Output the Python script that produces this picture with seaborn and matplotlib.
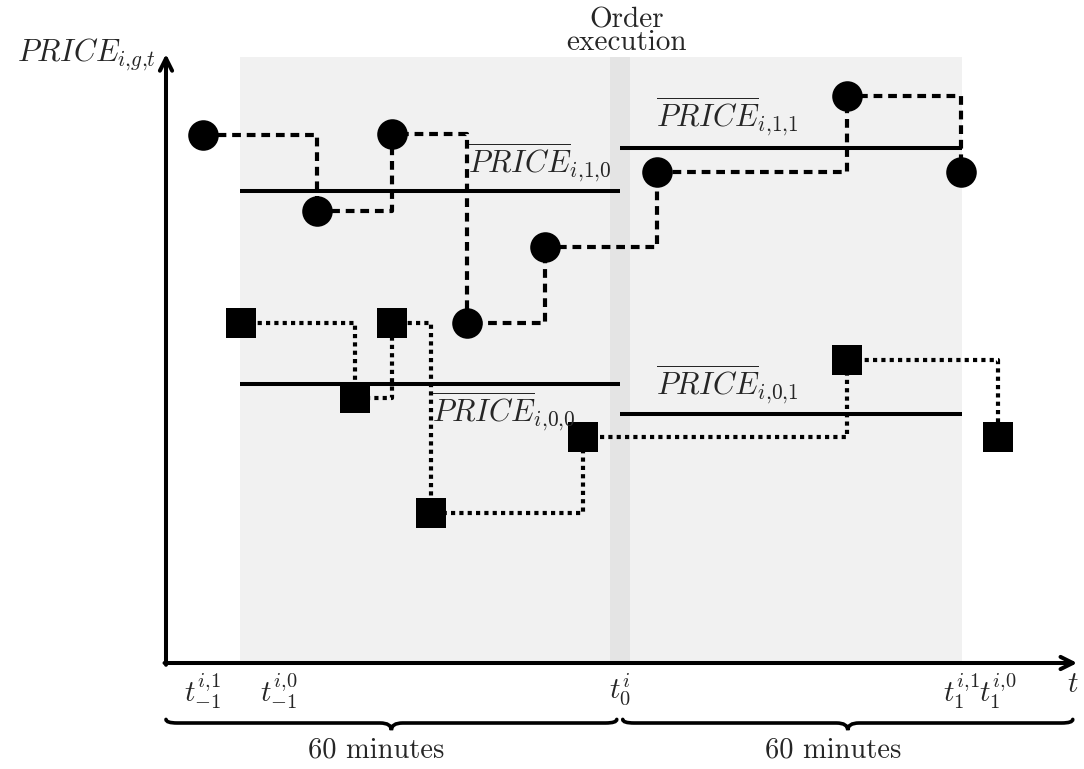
import numpy as np
import pandas as pd
import seaborn as sns
import matplotlib.pyplot as plt
from matplotlib.path import Path
from matplotlib.patches import PathPatch

sns.set_theme(style='white')
plt.rcParams['font.family'] = ['cmr10', 'DejaVu Serif']
plt.rcParams['mathtext.fontset'] = 'cm'
plt.rcParams['axes.formatter.use_mathtext'] = True

# time in minutes relative to order execution, price in arbitrary units
time_1 = [-55.6, -40.4, -30.4, -20.4, -10.0, 4.9, 30.3, 45.5]
price_1 = [88.0, 75.3, 88.2, 56.7, 69.3, 81.8, 94.5, 81.8]
time_0 = [-50.5, -35.3, -30.4, -25.2, -4.9, 30.3, 50.4]
price_0 = [56.7, 44.2, 56.7, 25.0, 37.7, 50.5, 37.7]

# per-period means (before / after execution)
period_start = [-50.7, 0.0]
period_end = [0.0, 45.6]
mean_1 = [78.7, 85.8]
mean_0 = [46.5, 41.5]
mean_labels_1 = [r'$\overline{PRICE}_{i{,}1{,}0}$', r'$\overline{PRICE}_{i{,}1{,}1}$']
mean_labels_0 = [r'$\overline{PRICE}_{i{,}0{,}0}$', r'$\overline{PRICE}_{i{,}0{,}1}$']

tick_pos = [-55.6, -45.5, 0.0, 45.6, 50.4, 60.4]
tick_labels = [r'$t_{-1}^{i{,}1}$', r'$t_{-1}^{i{,}0}$', r'$t_0^i$',
               r'$t_1^{i{,}1}$', r'$t_1^{i{,}0}$', r'$t$']


def brace(ax, x0, x1, y, h_end=0.6, h_tip=1.2, w=1.5):
    xm = (x0 + x1) / 2
    verts = [(x0, y + h_end), (x0, y), (x0 + w, y), (xm - w, y),
             (xm, y), (xm, y - h_tip), (xm, y), (xm + w, y),
             (x1 - w, y), (x1, y), (x1, y + h_end)]
    codes = [Path.MOVETO, Path.CURVE3, Path.CURVE3, Path.LINETO,
             Path.CURVE3, Path.CURVE3, Path.CURVE3, Path.CURVE3,
             Path.LINETO, Path.CURVE3, Path.CURVE3]
    ax.add_patch(PathPatch(Path(verts, codes), fill=False, lw=2.6,
                           color='black', clip_on=False, capstyle='round'))
    return xm


fig = plt.figure(figsize=(10.84, 7.69), dpi=100)
ax = fig.add_axes([166 / 1084, 106 / 769, 909 / 1084, 606 / 769])
ax.set_xlim(-60.5, 60.7)
ax.set_ylim(0, 101)

# shaded windows
ax.axvspan(period_start[0], period_end[1], color='#f1f1f1', lw=0, zorder=0)
ax.axvspan(-1.3, 1.3, color='#e4e4e4', lw=0, zorder=0)

# means
ax.hlines(mean_1, period_start, period_end, color='black', lw=2.9, zorder=2)
ax.hlines(mean_0, period_start, period_end, color='black', lw=2.9, zorder=2)

# price paths
sns.lineplot(x=time_1, y=price_1, ax=ax, color='black', lw=3,
             linestyle=(0, (2.1, 1.4)), drawstyle='steps-post',
             marker='o', markersize=22, markeredgewidth=0, zorder=3)
sns.lineplot(x=time_0, y=price_0, ax=ax, color='black', lw=3,
             linestyle=(0, (1.0, 1.0)), drawstyle='steps-post',
             marker='s', markersize=22, markeredgewidth=0, zorder=3)

# mean labels
fs = 22
ax.text(-20.3, 81.8, mean_labels_1[0], fontsize=fs, va='baseline')
ax.text(4.9, 89.4, mean_labels_1[1], fontsize=fs, va='baseline')
ax.text(-25.1, 40.2, mean_labels_0[0], fontsize=fs, va='baseline')
ax.text(4.9, 44.7, mean_labels_0[1], fontsize=fs, va='baseline')

ax.text(0.9, 101.2, 'Order\nexecution', fontsize=21, ha='center',
        va='bottom', linespacing=0.82)

# axes with arrow heads
sns.despine(ax=ax, left=True, bottom=True)
ax.annotate('', xy=(61.0, 0), xytext=(-60.7, 0), annotation_clip=False,
            arrowprops=dict(arrowstyle='->', lw=2.9, color='black',
                            mutation_scale=22, shrinkA=0, shrinkB=0))
ax.annotate('', xy=(-60.5, 101.5), xytext=(-60.5, -0.3), annotation_clip=False,
            arrowprops=dict(arrowstyle='->', lw=2.9, color='black',
                            mutation_scale=22, shrinkA=0, shrinkB=0))
ax.text(-61.8, 100.2, r'$PRICE_{i{,}g{,}t}$', fontsize=fs, ha='right', va='baseline')

ax.set_yticks([])
ax.set_xticks(tick_pos)
ax.set_xticklabels(tick_labels, fontsize=21)
ax.tick_params(axis='x', length=0, pad=6)
ax.set_xlabel('')
ax.set_ylabel('')

# 60-minute windows
for x0, x1 in [(-60.5, -0.4), (0.4, 60.4)]:
    xm = brace(ax, x0, x1, -10.0)
    ax.text(xm - 2, -15.8, '60 minutes', fontsize=20.5, ha='center',
            va='baseline', clip_on=False)

fig.savefig('out.png', dpi=100)
